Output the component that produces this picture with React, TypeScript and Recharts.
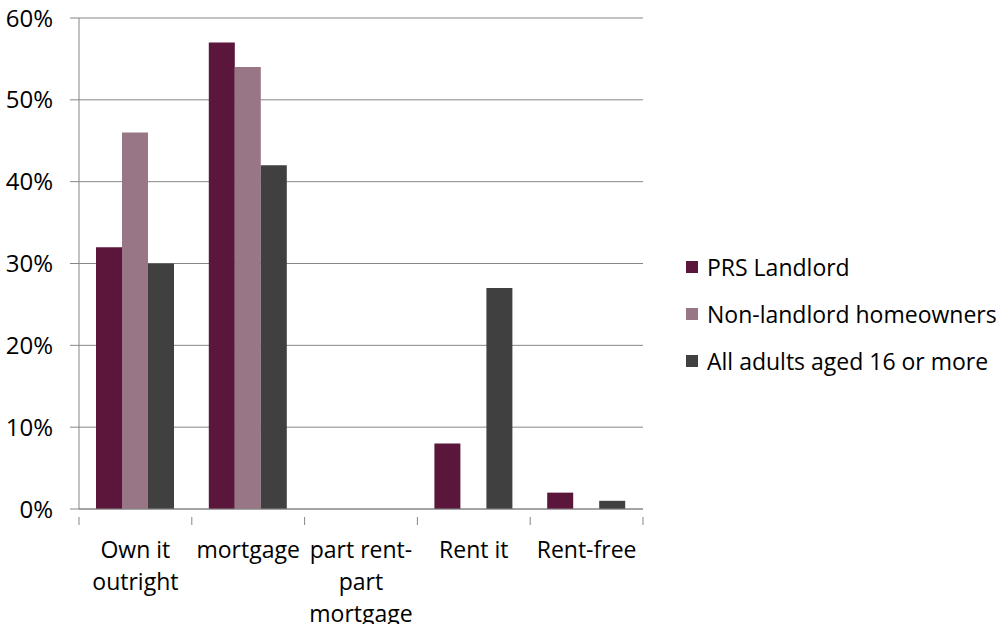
import { BarChart, Bar, XAxis, YAxis, CartesianGrid } from "recharts";

const categories = ["Own it outright", "mortgage", "part rent-part mortgage", "Rent it", "Rent-free"];
const tickLines: string[][] = [["Own it", "outright"], ["mortgage"], ["part rent-", "part", "mortgage"], ["Rent it"], ["Rent-free"]];
const prsLandlord = [32, 57, 0, 8, 2];
const nonLandlord = [46, 54, 0, 0, 0];
const allAdults = [30, 42, 0, 27, 1];
const yTicks = [0, 10, 20, 30, 40, 50, 60];

const series = [
    { key: "prs", name: "PRS Landlord", color: "#5a173b" },
    { key: "nonLandlord", name: "Non-landlord homeowners", color: "#987686" },
    { key: "all", name: "All adults aged 16 or more", color: "#404040" }
];

const data = categories.map((c, i) => ({
    category: c,
    prs: prsLandlord[i],
    nonLandlord: nonLandlord[i],
    all: allAdults[i]
}));

const FONT = "'Open Sans', 'Liberation Sans', sans-serif";
const AXIS = "#868686";

function XTick(props: any) {
    const { x, y, payload, index } = props;
    const lines = tickLines[payload.index ?? index] || [payload.value];
    const off = payload.offset || 0;
    return (
        <g>
            <line x1={x - off} x2={x - off} y1={y} y2={y + 8} stroke={AXIS} />
            {index === categories.length - 1 && (
                <line x1={x + off} x2={x + off} y1={y} y2={y + 8} stroke={AXIS} />
            )}
            {lines.map((l, i) => (
                <text key={i} x={x} y={y + 41 + i * 32} textAnchor="middle" fill="#000" fontSize={23} fontFamily={FONT}>
                    {l}
                </text>
            ))}
        </g>
    );
}

function LegendBox() {
    return (
        <div style={{ position: "absolute", left: 686, top: 243, fontFamily: FONT, fontSize: 23, color: "#000", whiteSpace: "nowrap" }}>
            {series.map((s) => (
                <div key={s.key} style={{ display: "flex", alignItems: "center", height: 47 }}>
                    <span style={{ width: 12, height: 12, background: s.color, marginRight: 9, display: "inline-block" }} />
                    <span>{s.name}</span>
                </div>
            ))}
        </div>
    );
}

export default function App() {
    return (
        <div style={{ position: "absolute", left: 0, top: 0, width: 1000, height: 624, background: "#fff", overflow: "hidden" }}>
            <BarChart
                width={1000}
                height={624}
                data={data}
                margin={{ top: 18, right: 357, bottom: 0, left: 0 }}
                barCategoryGap="17%"
                barGap={0}
            >
                <CartesianGrid vertical={false} stroke={AXIS} strokeWidth={1} />
                <XAxis
                    dataKey="category"
                    height={115}
                    stroke={AXIS}
                    tickLine={false}
                    interval={0}
                    tick={<XTick />}
                />
                <YAxis
                    width={79}
                    domain={[0, 60]}
                    ticks={yTicks}
                    stroke={AXIS}
                    tickSize={9}
                    tickMargin={17}
                    tickFormatter={(v: number) => `${v}%`}
                    tick={{ fill: "#000", fontSize: 24, fontFamily: FONT }}
                />
                {series.map((s) => (
                    <Bar key={s.key} dataKey={s.key} name={s.name} fill={s.color} barSize={26} isAnimationActive={false} />
                ))}
            </BarChart>
            <LegendBox />
        </div>
    );
}
